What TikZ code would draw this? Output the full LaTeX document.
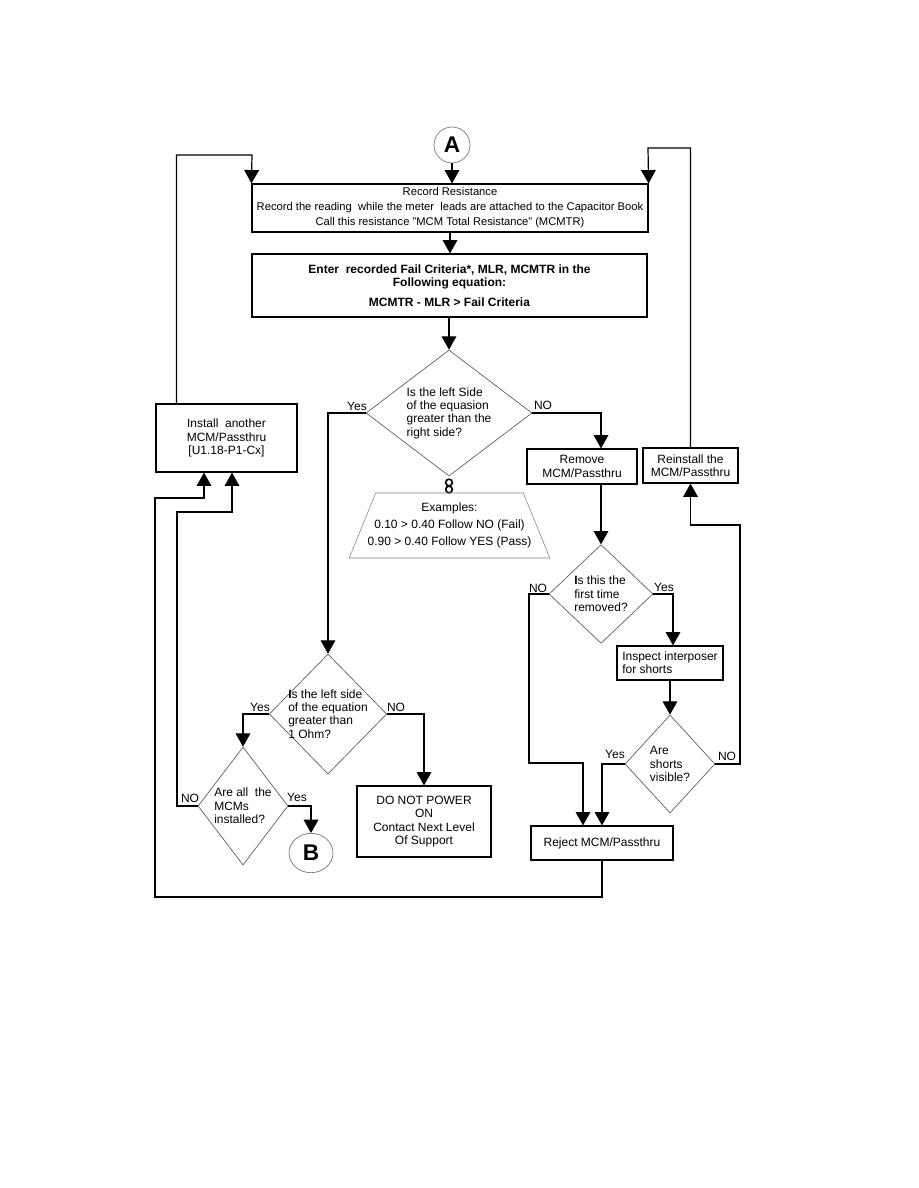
\documentclass[tikz,border=0pt]{standalone}
\usepackage{fontspec}
\setmainfont{Liberation Sans}
\usetikzlibrary{arrows.meta,shapes.geometric,calc}
\tikzset{
  box/.style={draw,line width=0.9pt,inner sep=2pt,align=center,font=\fontsize{9}{10}\selectfont},
  test/.style={diamond,draw=black!65,line width=0.5pt,inner sep=-8pt,align=left,font=\fontsize{9}{10}\selectfont},
  conn/.style={draw=black!55,line width=0.5pt,inner sep=0pt,font=\fontsize{17}{17}\selectfont\bfseries},
  link/.style={circle,draw,line width=1.2pt,minimum size=5pt,inner sep=0pt},
  lbl/.style={inner sep=0pt,font=\fontsize{9}{10}\selectfont},
  arr/.style={-{Triangle[width=11pt,length=10pt]},line width=0.9pt},
}
\begin{document}
\begin{tikzpicture}[x=0.75pt,y=-0.75pt]
  \useasboundingbox (0,0) rectangle (918,1188);
  \node[conn,circle,minimum size=27pt] (A) at (452,145) {A};
  \node[box,minimum width=297pt,minimum height=36pt,font=\fontsize{8.4}{11.25}\selectfont] (rec) at (450,208)
    {Record Resistance\\Record the reading~ while the meter~ leads are attached to the Capacitor Book\\Call this resistance "MCM Total Resistance" (MCMTR)};
  \node[box,minimum width=296.25pt,minimum height=47.25pt,font=\fontsize{9}{10}\selectfont\bfseries] (eqn) at (449.5,285.5)
    {Enter~ recorded Fail Criteria*, MLR, MCMTR in the\\Following equation:\\[5pt]MCMTR - MLR > Fail Criteria};
  \node[test,minimum width=124.5pt,minimum height=94.5pt] (d1) at (449,413) {Is the left Side\\of the equasion\\greater than the\\right side?};
  \node[link] (k1) at (449,482.5) {};
  \node[link] (k2) at (449,489.5) {};
  \node[trapezium,draw=black!50,line width=0.4pt,trapezium left angle=66,trapezium right angle=66,trapezium stretches=true,
    inner xsep=-12pt,inner ysep=3pt,minimum width=150.75pt,minimum height=48.75pt,align=center,font=\fontsize{9}{12.75}\selectfont] (ex) at (449.5,525.5)
    {Examples:\\0.10 > 0.40 Follow NO (Fail)\\0.90 > 0.40 Follow YES (Pass)};
  \node[box,minimum width=105.75pt,minimum height=51pt] (install) at (226.5,438) {Install~ another\\MCM/Passthru\\{[U1.18-P1-Cx]}};
  \node[box,minimum width=82.5pt,minimum height=26.25pt] (remove) at (582,466.5) {Remove\\MCM/Passthru};
  \node[box,minimum width=71.25pt,minimum height=26.25pt] (reinstall) at (690.5,465.5) {Reinstall the\\MCM/Passthru};
  \node[test,minimum width=78pt,minimum height=74pt] (d3) at (601,594) {{\bfseries I}s this the\\first time\\removed?};
  \node[box,align=left,minimum width=79.5pt,minimum height=25.5pt] (inspect) at (670,663) {Inspect interposer\\for shorts};
  \node[test,minimum width=67.5pt,minimum height=73.5pt] (d4) at (670,764) {Are\\shorts\\visible?};
  \node[box,minimum width=106.5pt,minimum height=25.5pt] (reject) at (602,843) {Reject MCM/Passthru};
  \node[test,minimum width=88pt,minimum height=90pt] (d2) at (328,714) {{\bfseries I}s the left side\\of the equation\\greater than\\1 Ohm?};
  \node[test,minimum width=67.5pt,minimum height=88.5pt] (d5) at (243,806) {Are all~ the\\MCMs\\installed?};
  \node[box,minimum width=100.5pt,minimum height=53.25pt] (notpower) at (424,821.5) {DO NOT POWER\\ON\\Contact Next Level\\Of Support};
  \node[conn,ellipse,minimum width=33pt,minimum height=29.5pt] (B) at (311,853) {B};

  \node[lbl] (yes1) at (357,406) {Yes};
  \node[lbl] (no1) at (543,405) {NO};
  \node[lbl] (yes2) at (260,707) {Yes};
  \node[lbl] (no2) at (396,707) {NO};
  \node[lbl] (no3) at (190,798) {NO};
  \node[lbl] (yes3) at (297,797) {Yes};
  \node[lbl] (no4) at (538,588) {NO};
  \node[lbl] (yes4) at (664,587) {Yes};
  \node[lbl] (yes5) at (615,754) {Yes};
  \node[lbl] (no5) at (727,756) {NO};

  \coordinate (ltop) at (252,155);
  \coordinate (rtop) at (648,148);
  \coordinate (nobend) at (529,763);
  \coordinate (rbend) at (740,525);
  \coordinate (bot) at (155,897);
  \coordinate (lbend) at (155,498);
  \coordinate (nbend) at (177,512);

  \draw[arr] (A.south) -- (A.south |- rec.north);
  \draw[arr] (rec.south) -- (rec.south |- eqn.north);
  \draw[arr] (eqn.south -| d1.north) -- (d1.north);
  \draw[arr] (d1.west) -| (d2.north);
  \draw[arr] (d1.east) -| (d3.north |- remove.north);
  \draw[arr] (d3.north |- remove.south) -- (d3.north);
  \draw[arr] (d3.east) -| ($(inspect.north)+(3,0)$);
  \draw[arr] (inspect.south) -- (d4.north);
  \draw[arr] (d3.west) -| (nobend) -| ($(reject.north)+(-19,0)$);
  \draw[arr] (d4.west) -| (reject.north);
  \draw[arr] (d4.east) -| (rbend) -| (reinstall.south);
  \draw[arr] (reinstall.north) |- (rtop) -- (rec.north east);
  \draw[arr] ($(install.north west)+(21,0)$) |- (ltop) -- (rec.north west);
  \draw[arr] (reject.south) |- (bot) -- (lbend) -| ($(install.south)+(-22.5,0)$);
  \draw[arr] (d5.west) -| (nbend) -| ($(install.south)+(5.5,0)$);
  \draw[arr] (d2.west) -| (d5.north);
  \draw[arr] (d2.east) -| (notpower.north);
  \draw[arr] (d5.east) -| (B.north);
\end{tikzpicture}
\end{document}
